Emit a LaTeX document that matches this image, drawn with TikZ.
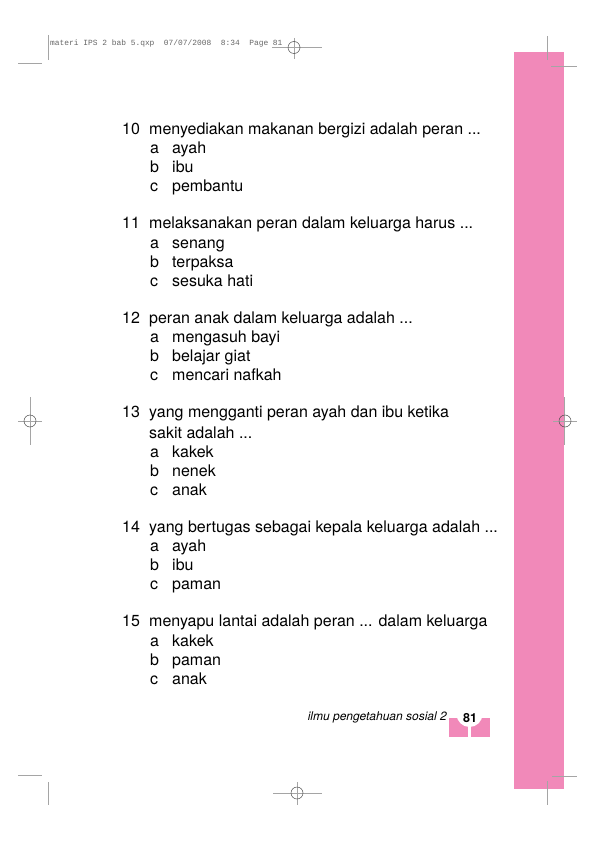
\documentclass[tikz,border=0pt]{standalone}
\usepackage{fontspec}
\setmainfont{TeX Gyre Heros}
\setmonofont{Liberation Mono}
\usetikzlibrary{positioning}
\definecolor{tabpink}{RGB}{241,137,185}
\definecolor{markgray}{RGB}{165,165,165}
\tikzset{
  qnum/.style={anchor=base west, inner sep=0pt, font=\fontsize{16}{19}\selectfont},
  qtext/.style={anchor=base west, inner sep=0pt, font=\fontsize{16}{19}\selectfont},
  optletter/.style={anchor=base west, inner sep=0pt, font=\fontsize{16}{19}\selectfont},
  opttext/.style={anchor=base west, inner sep=0pt, font=\fontsize{16}{19}\selectfont},
  cropline/.style={draw=markgray, line width=1pt},
  regcircle/.style={draw=black!70, line width=0.5pt}
}
\begin{document}
\begin{tikzpicture}[x=1pt,y=-1pt]
			\useasboundingbox (0,0) rectangle (595,842);
			% Side bar
			\fill[tabpink] (514,52) rectangle (564,789);
			
			% Crop marks
			\draw[cropline] (48,35) -- (48,60);
			\draw[cropline] (18,63.5) -- (42,63.5);
			\draw[cropline] (547,36) -- (547,60);
			\draw[cropline] (551,66.5) -- (577,66.5);
			\draw[cropline] (18,775) -- (42,775);
			\draw[cropline] (48,782) -- (48,805);
			\draw[cropline] (552,776) -- (577,776);
			\draw[cropline] (547,781) -- (547,805);
			
			% Registration marks
			\draw[cropline] (272,47.5) -- (322,47.5);
			\draw[cropline] (294,38) -- (294,59);
			\draw[regcircle] (294,47.5) circle (6);
			\draw[cropline] (18,421) -- (42,421);
			\draw[cropline] (30,397) -- (30,445);
			\draw[regcircle] (30,421) circle (6);
			\draw[cropline] (553,421) -- (577,421);
			\draw[cropline] (564.5,397) -- (564.5,445);
			\draw[regcircle] (565,421) circle (6);
			\draw[cropline] (273,793) -- (322,793);
			\draw[cropline] (297,782) -- (297,805);
			\draw[regcircle] (297,793) circle (6);
			
			% Slug line
			\node[anchor=base west, inner sep=0pt, text=black!60, font=\ttfamily\fontsize{7.9}{9}\selectfont] (slug) at (50,46) {materi IPS 2 bab 5.qxp\ \ 07/07/2008\ \ 8:34\ \ Page 81};
			
			% Question 10
			\node[qnum] (q10) at (122,135) {10};
			\node[qtext] (q10t) at (149,135) {menyediakan makanan bergizi adalah peran ...};
			\node[optletter] (q10a) at (150,154) {a};
			\node[opttext] (q10at) at (172,154) {ayah};
			\node[optletter] (q10b) at (150,173) {b};
			\node[opttext] (q10bt) at (172,173) {ibu};
			\node[optletter] (q10c) at (150,192) {c};
			\node[opttext] (q10ct) at (172,192) {pembantu};
			
			% Question 11
			\node[qnum] (q11) at (122,229) {11};
			\node[qtext] (q11t) at (149,229) {melaksanakan peran dalam keluarga harus ...};
			\node[optletter] (q11a) at (150,248) {a};
			\node[opttext] (q11at) at (172,248) {senang};
			\node[optletter] (q11b) at (150,267) {b};
			\node[opttext] (q11bt) at (172,267) {terpaksa};
			\node[optletter] (q11c) at (150,286) {c};
			\node[opttext] (q11ct) at (172,286) {sesuka hati};
			
			% Question 12
			\node[qnum] (q12) at (122,323) {12};
			\node[qtext] (q12t) at (149,323) {peran anak dalam keluarga adalah ...};
			\node[optletter] (q12a) at (150,342) {a};
			\node[opttext] (q12at) at (172,342) {mengasuh bayi};
			\node[optletter] (q12b) at (150,361) {b};
			\node[opttext] (q12bt) at (172,361) {belajar giat};
			\node[optletter] (q12c) at (150,380) {c};
			\node[opttext] (q12ct) at (172,380) {mencari nafkah};
			
			% Question 13
			\node[qnum] (q13) at (122,417.5) {13};
			\node[qtext] (q13t) at (149,417.5) {yang mengganti peran ayah dan ibu ketika};
			\node[qtext] (q13t2) at (149,438.5) {sakit adalah ...};
			\node[optletter] (q13a) at (150,457.5) {a};
			\node[opttext] (q13at) at (172,457.5) {kakek};
			\node[optletter] (q13b) at (150,476.5) {b};
			\node[opttext] (q13bt) at (172,476.5) {nenek};
			\node[optletter] (q13c) at (150,495.5) {c};
			\node[opttext] (q13ct) at (172,495.5) {anak};
			
			% Question 14
			\node[qnum] (q14) at (122,532) {14};
			\node[qtext] (q14t) at (149,532) {yang bertugas sebagai kepala keluarga adalah ...};
			\node[optletter] (q14a) at (150,551) {a};
			\node[opttext] (q14at) at (172,551) {ayah};
			\node[optletter] (q14b) at (150,570) {b};
			\node[opttext] (q14bt) at (172,570) {ibu};
			\node[optletter] (q14c) at (150,589) {c};
			\node[opttext] (q14ct) at (172,589) {paman};
			
			% Question 15
			\node[qnum] (q15) at (122,626) {15};
			\node[qtext] (q15t) at (149,626) {menyapu lantai adalah peran ... dalam keluarga};
			\node[optletter] (q15a) at (150,646) {a};
			\node[opttext] (q15at) at (172,646) {kakek};
			\node[optletter] (q15b) at (150,665) {b};
			\node[opttext] (q15bt) at (172,665) {paman};
			\node[optletter] (q15c) at (150,684) {c};
			\node[opttext] (q15ct) at (172,684) {anak};
			
			% Footer and page tab
			\node[anchor=base east, inner sep=0pt, font=\itshape\fontsize{12}{14}\selectfont] (footer) at (447,720.5) {ilmu pengetahuan sosial 2};
			\fill[tabpink] (449,718) rectangle (489.5,737);
			\fill[white] (469.5,714) circle (13);
			\fill[white] (468,718) rectangle (471,737.5);
			\node[anchor=base, inner sep=0pt, font=\bfseries\fontsize{12.5}{14}\selectfont] (pagenum) at (470,722) {81};
		\end{tikzpicture}
\end{document}
